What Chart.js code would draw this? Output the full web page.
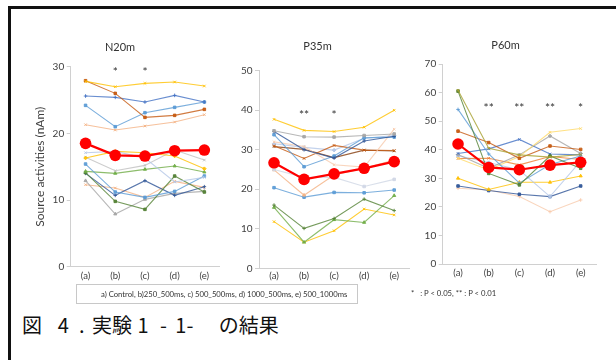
<!DOCTYPE html>
<html>
<head>
<meta charset="utf-8">
<script src="https://cdn.jsdelivr.net/npm/chart.js@4.4.1/dist/chart.umd.min.js"></script>
<style>
  html, body { margin: 0; padding: 0; background: #fff; }
  body { width: 616px; height: 360px; position: relative; overflow: hidden; font-family: Lato, "Noto Sans", sans-serif; }
  .frame { position: absolute; left: 8px; top: 6px; width: 700px; height: 500px; border: 3px solid #111; box-sizing: border-box; }
  canvas { position: absolute; }
  #legendBox { position: absolute; left: 76px; top: 284px; width: 282px; height: 20px; border: 1px solid #C8C8C8; box-sizing: border-box;
               font-size: 7.7px; line-height: 18px; text-align: left; padding-left: 24px; color: #333; white-space: nowrap; }
  #pNote { position: absolute; left: 411px; top: 287px; font-size: 7.7px; line-height: 12px; color: #333; white-space: pre; }
  #caption { position: absolute; left: 22px; top: 313px; font-family: "Noto Sans CJK JP", sans-serif; font-size: 20px; line-height: 24px;
             white-space: pre; color: #111; }
  #caption .sp { display: inline-block; }
</style>
</head>
<body>
<div class="frame"></div>
<canvas id="cN20" width="205" height="260" style="left:20px;top:30px"></canvas>
<canvas id="cP35" width="190" height="260" style="left:225px;top:30px"></canvas>
<canvas id="cP60" width="190" height="260" style="left:415px;top:30px"></canvas>
<div id="legendBox">a) Control, b)250_500ms, c) 500_500ms, d) 1000_500ms, e) 500_1000ms</div>
<div id="pNote">*   : P &lt; 0.05, ** : P &lt; 0.01</div>
<div id="caption">図<span class="sp" style="width:15.8px"> </span>4<span class="sp" style="width:10px"> </span>.<span class="sp" style="width:7.5px"> </span>実験<span class="sp" style="width:5.5px"> </span>1<span class="sp" style="width:11.4px"> </span>-<span class="sp" style="width:8.4px"> </span>1-<span class="sp" style="width:25.3px">　</span>の結果</div>

<script>
// Stimulus conditions (a)–(e)
const conditions = ['(a)', '(b)', '(c)', '(d)', '(e)'];

// N20m source activities (nAm): group mean and individual subjects
const n20Mean = [18.5, 16.7, 16.6, 17.4, 17.5];
const n20Subjects = [
  [27.8, 27.0, 27.5, 27.7, 27.1],
  [27.9, 26.0, 22.4, 22.7, 23.6],
  [25.6, 25.4, 24.7, 25.7, 24.7],
  [24.2, 21.0, 23.1, 23.9, 24.7],
  [21.3, 20.5, 21.1, 21.7, 22.8],
  [17.1, 17.3, 16.3, 12.7, 13.4],
  [16.3, 17.3, 17.1, 16.6, 14.7],
  [16.4, 14.4, 15.2, 17.5, 16.0],
  [15.4, 11.2, 10.4, 11.3, 13.6],
  [14.3, 14.0, 14.6, 15.1, 14.2],
  [14.1, 9.8, 8.6, 13.6, 11.2],
  [14.0, 10.7, 12.9, 10.7, 12.0],
  [12.9, 7.9, 10.1, 11.0, 11.3],
  [12.3, 11.8, 10.4, 12.8, 11.9]
];
const n20Sig = ['', '*', '*', '', ''];

// P35m source activities (nAm)
const p35Mean = [26.7, 22.5, 23.9, 25.3, 27.0];
const p35Subjects = [
  [37.7, 34.9, 34.6, 35.7, 40.0],
  [34.8, 33.3, 33.2, 33.6, 34.0],
  [34.6, 30.0, 27.9, 32.2, 33.4],
  [33.8, 25.7, 28.4, 33.0, 33.2],
  [32.0, 30.8, 26.2, 25.6, 35.2],
  [31.0, 27.8, 31.1, 29.9, 29.8],
  [31.5, 30.6, 29.9, 32.9, 33.6],
  [30.8, 30.1, 28.0, 29.9, 29.7],
  [25.0, 23.0, 23.0, 20.7, 22.5],
  [24.9, 18.5, 23.6, 25.3, 27.4],
  [20.4, 18.0, 19.2, 19.1, 19.8],
  [16.0, 10.1, 12.6, 17.5, 14.6],
  [15.4, 6.6, 12.3, 11.6, 18.4],
  [11.8, 6.6, 9.5, 15.0, 13.5]
];
const p35Sig = ['', '**', '*', '', ''];

// P60m source activities (nAm)
const p60Mean = [42.0, 33.8, 33.0, 34.6, 35.6];
const p60Subjects = [
  [60.8, 40.5, 38.2, 37.4, 38.3],
  [60.5, 31.7, 27.7, 37.8, 33.5],
  [54.1, 38.5, 28.3, 34.8, 37.8],
  [46.5, 42.5, 37.0, 41.3, 40.1],
  [37.0, 32.9, 37.6, 46.1, 47.4],
  [38.7, 40.3, 43.6, 38.5, 38.2],
  [38.3, 33.5, 38.2, 44.8, 38.7],
  [36.9, 37.0, 34.7, 37.6, 36.6],
  [37.9, 35.5, 32.9, 23.6, 36.0],
  [30.0, 26.1, 28.6, 28.6, 30.8],
  [27.3, 25.7, 24.4, 23.6, 27.3],
  [26.5, 25.9, 23.6, 18.3, 22.4]
];
const p60Sig = ['', '**', '**', '**', '*'];

// Per-subject line colours and marker shapes
const n20Colors = ['#FFC000', '#C55A11', '#4472C4', '#5B9BD5', '#F4B183', '#B4C7E7', '#FFC000',
                   '#BFBFBF', '#5B9BD5', '#70AD47', '#548235', '#2F5597', '#A5A5A5', '#F4B183'];
const p35Colors = ['#FFC000', '#A5A5A5', '#2F5597', '#5B9BD5', '#F8CBAD', '#C55A11', '#B4C7E7',
                   '#843C0C', '#D0D7E5', '#F4B183', '#5B9BD5', '#548235', '#70AD47', '#FFC000'];
const p60Colors = ['#A8A030', '#548235', '#5B9BD5', '#C55A11', '#FFD966', '#4472C4', '#A5A5A5',
                   '#ED7D31', '#B4C7E7', '#FFC000', '#2F5597', '#F8CBAD'];
const markerCycle = ['crossRot', 'rect', 'cross', 'rect', 'crossRot', 'crossRot', 'rectRot',
                     'crossRot', 'rect', 'triangle', 'rect', 'cross', 'triangle', 'crossRot'];

function withAlpha(hex, a) {
  const n = parseInt(hex.slice(1), 16);
  return `rgba(${(n >> 16) & 255},${(n >> 8) & 255},${n & 255},${a})`;
}

// Draws significance asterisks above each condition
const sigMarks = {
  id: 'sigMarks',
  afterDatasetsDraw(chart, args, opts) {
    const { ctx, scales: { x, y } } = chart;
    ctx.save();
    ctx.font = opts.font;
    ctx.fillStyle = opts.color;
    ctx.textAlign = 'center';
    ctx.textBaseline = 'middle';
    opts.labels.forEach((t, i) => {
      if (t) ctx.fillText(t, x.getPixelForValue(i), y.getPixelForValue(opts.level));
    });
    ctx.restore();
  }
};

function makeChart(id, titleText, subjects, mean, colors, sig, g) {
  const datasets = [{
    label: 'Mean', data: mean,
    borderColor: '#FF0000', backgroundColor: '#FF0000',
    borderWidth: 2.2, pointRadius: 5.8, pointBorderWidth: 0, pointBackgroundColor: '#FF0000'
  }];
  subjects.forEach((vals, i) => {
    const c = colors[i % colors.length];
    datasets.push({
      label: 'S' + (i + 1), data: vals,
      borderColor: withAlpha(c, 0.8), backgroundColor: withAlpha(c, 0.9),
      borderWidth: 1.1, pointStyle: markerCycle[i % markerCycle.length],
      pointRadius: 1.8, pointBorderWidth: 1,
      pointBorderColor: withAlpha(c, 0.9), pointBackgroundColor: withAlpha(c, 0.9)
    });
  });

  return new Chart(document.getElementById(id), {
    type: 'line',
    data: { labels: conditions, datasets },
    plugins: [sigMarks],
    options: {
      responsive: false,
      animation: false,
      layout: { padding: { left: 0, right: g.padRight, top: 0, bottom: 0 } },
      plugins: {
        legend: { display: false },
        tooltip: { enabled: false },
        title: {
          display: true, text: titleText, color: '#333',
          font: { family: 'Lato', size: 11, weight: 'normal' },
          padding: { top: g.titleTop, bottom: g.titleBottom }
        },
        sigMarks: { labels: sig, level: g.sigLevel, font: '12px Lato', color: '#333' }
      },
      scales: {
        x: {
          type: 'category',
          offset: true,
          grid: { display: false, drawTicks: false },
          border: { display: true, color: '#D0D0D0', width: 1 },
          ticks: { font: { family: 'Lato', size: 9.5 }, color: '#404040', padding: g.xPad, maxRotation: 0, autoSkip: false },
          afterFit(s) { s.height = g.xH; }
        },
        y: {
          min: 0, max: g.yMax,
          ticks: { stepSize: 10, font: { family: 'Lato', size: 10 }, color: '#404040', padding: 2.5 },
          grid: { drawOnChartArea: false, drawTicks: true, tickLength: 4, color: '#D0D0D0' },
          border: { display: true, color: '#D0D0D0', width: 1 },
          title: g.yTitle ? {
            display: true, text: g.yTitle, color: '#404040',
            font: { family: 'Lato', size: 12 }, padding: { top: g.yTitlePad, bottom: 0 }
          } : { display: false },
          afterFit(s) { s.width = g.yW; }
        }
      }
    }
  });
}

makeChart('cN20', 'N20m', n20Subjects, n20Mean, n20Colors, n20Sig,
  { yMax: 30, yW: 50.7, xH: 23.3, padRight: 5, titleTop: 10.4, titleBottom: 13.1, xPad: 3.5,
    sigLevel: 29.2, yTitle: 'Source activities (nAm)', yTitlePad: 12.8 });
makeChart('cP35', 'P35m', p35Subjects, p35Mean, p35Colors, p35Sig,
  { yMax: 50, yW: 34, xH: 21.7, padRight: 5, titleTop: 10.1, titleBottom: 17.4, xPad: 2,
    sigLevel: 38.7 });
makeChart('cP60', 'P60m', p60Subjects, p60Mean, p60Colors, p60Sig,
  { yMax: 70, yW: 27.7, xH: 26, padRight: 9, titleTop: 8.4, titleBottom: 12.4, xPad: 3.6,
    sigLevel: 54.7 });
</script>
</body>
</html>
